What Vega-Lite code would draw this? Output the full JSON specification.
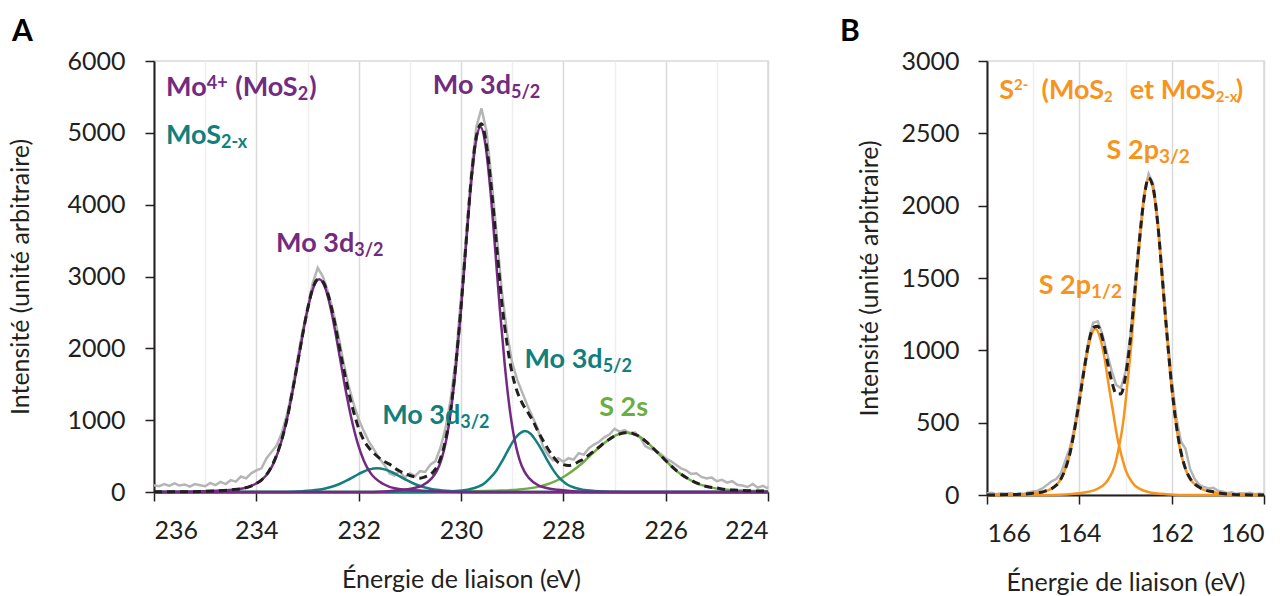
{
 "$schema": "https://vega.github.io/schema/vega-lite/v6.json",
 "background": "white",
 "padding": {"left": 8, "top": 16, "right": 5, "bottom": 0},
 "spacing": 64,
 "config": {
  "font": "Lato",
  "view": {"stroke": "#d9d9d9", "strokeWidth": 1.5},
  "axis": {"labelFont": "Lato", "titleFont": "Lato", "labelFontSize": 25, "titleFontSize": 25, "titleFontWeight": "normal", "labelColor": "#231f20", "titleColor": "#231f20", "domainColor": "#231f20", "domainWidth": 2, "tickColor": "#231f20", "tickWidth": 1.5, "tickSize": 9, "grid": false, "labelOverlap": false},
  "title": {"font": "Lato", "fontSize": 30, "fontWeight": "bold", "color": "#000000", "anchor": "start", "frame": "bounds"}
 },
 "datasets": {
  "a": [
   {"s":"raw","E":236.0,"I":95},{"s":"raw","E":235.9,"I":80},{"s":"raw","E":235.8,"I":110},{"s":"raw","E":235.7,"I":85},{"s":"raw","E":235.6,"I":120},{"s":"raw","E":235.5,"I":90},{"s":"raw","E":235.4,"I":105},{"s":"raw","E":235.3,"I":75},{"s":"raw","E":235.2,"I":110},{"s":"raw","E":235.1,"I":95},{"s":"raw","E":235.0,"I":80},{"s":"raw","E":234.9,"I":125},{"s":"raw","E":234.8,"I":95},{"s":"raw","E":234.7,"I":140},{"s":"raw","E":234.6,"I":110},{"s":"raw","E":234.5,"I":165},{"s":"raw","E":234.4,"I":145},{"s":"raw","E":234.3,"I":215},{"s":"raw","E":234.2,"I":190},{"s":"raw","E":234.1,"I":260},{"s":"raw","E":234.0,"I":300},{"s":"raw","E":233.9,"I":330},{"s":"raw","E":233.8,"I":470},{"s":"raw","E":233.7,"I":560},{"s":"raw","E":233.6,"I":650},{"s":"raw","E":233.5,"I":830},{"s":"raw","E":233.4,"I":1080},{"s":"raw","E":233.3,"I":1420},{"s":"raw","E":233.2,"I":1830},{"s":"raw","E":233.1,"I":2230},{"s":"raw","E":233.0,"I":2560},{"s":"raw","E":232.9,"I":2900},{"s":"raw","E":232.8,"I":3120},{"s":"raw","E":232.7,"I":3000},{"s":"raw","E":232.6,"I":2790},{"s":"raw","E":232.5,"I":2520},{"s":"raw","E":232.4,"I":2190},{"s":"raw","E":232.3,"I":1820},{"s":"raw","E":232.2,"I":1490},{"s":"raw","E":232.1,"I":1230},{"s":"raw","E":232.0,"I":1010},{"s":"raw","E":231.9,"I":850},{"s":"raw","E":231.8,"I":700},{"s":"raw","E":231.7,"I":590},{"s":"raw","E":231.6,"I":470},{"s":"raw","E":231.5,"I":380},{"s":"raw","E":231.4,"I":260},{"s":"raw","E":231.3,"I":230},{"s":"raw","E":231.2,"I":290},{"s":"raw","E":231.1,"I":200},{"s":"raw","E":231.0,"I":260},{"s":"raw","E":230.9,"I":220},{"s":"raw","E":230.8,"I":290},{"s":"raw","E":230.7,"I":280},{"s":"raw","E":230.6,"I":380},{"s":"raw","E":230.5,"I":430},{"s":"raw","E":230.4,"I":620},{"s":"raw","E":230.3,"I":900},{"s":"raw","E":230.2,"I":1300},{"s":"raw","E":230.1,"I":1870},{"s":"raw","E":230.0,"I":2700},{"s":"raw","E":229.9,"I":3560},{"s":"raw","E":229.8,"I":4450},{"s":"raw","E":229.7,"I":5080},{"s":"raw","E":229.6,"I":5340},{"s":"raw","E":229.5,"I":5020},{"s":"raw","E":229.4,"I":4330},{"s":"raw","E":229.3,"I":3560},{"s":"raw","E":229.2,"I":2790},{"s":"raw","E":229.1,"I":2210},{"s":"raw","E":229.0,"I":1800},{"s":"raw","E":228.9,"I":1560},{"s":"raw","E":228.8,"I":1380},{"s":"raw","E":228.7,"I":1200},{"s":"raw","E":228.6,"I":1040},{"s":"raw","E":228.5,"I":880},{"s":"raw","E":228.4,"I":640},{"s":"raw","E":228.3,"I":520},{"s":"raw","E":228.2,"I":440},{"s":"raw","E":228.1,"I":470},{"s":"raw","E":228.0,"I":420},{"s":"raw","E":227.9,"I":470},{"s":"raw","E":227.8,"I":450},{"s":"raw","E":227.7,"I":540},{"s":"raw","E":227.6,"I":520},{"s":"raw","E":227.5,"I":610},{"s":"raw","E":227.4,"I":660},{"s":"raw","E":227.3,"I":700},{"s":"raw","E":227.2,"I":760},{"s":"raw","E":227.1,"I":800},{"s":"raw","E":227.0,"I":880},{"s":"raw","E":226.9,"I":840},{"s":"raw","E":226.8,"I":860},{"s":"raw","E":226.7,"I":810},{"s":"raw","E":226.6,"I":830},{"s":"raw","E":226.5,"I":760},{"s":"raw","E":226.4,"I":640},{"s":"raw","E":226.3,"I":600},{"s":"raw","E":226.2,"I":580},{"s":"raw","E":226.1,"I":530},{"s":"raw","E":226.0,"I":470},{"s":"raw","E":225.9,"I":430},{"s":"raw","E":225.8,"I":380},{"s":"raw","E":225.7,"I":330},{"s":"raw","E":225.6,"I":300},{"s":"raw","E":225.5,"I":250},{"s":"raw","E":225.4,"I":260},{"s":"raw","E":225.3,"I":210},{"s":"raw","E":225.2,"I":190},{"s":"raw","E":225.1,"I":200},{"s":"raw","E":225.0,"I":150},{"s":"raw","E":224.9,"I":170},{"s":"raw","E":224.8,"I":130},{"s":"raw","E":224.7,"I":150},{"s":"raw","E":224.6,"I":100},{"s":"raw","E":224.5,"I":90},{"s":"raw","E":224.4,"I":70},{"s":"raw","E":224.3,"I":110},{"s":"raw","E":224.2,"I":60},{"s":"raw","E":224.1,"I":85},{"s":"raw","E":224.0,"I":50},

   {"s":"P1","E":236,"I":0},{"s":"P1","E":231.71,"I":0},{"s":"P1","E":231.14,"I":30},{"s":"P1","E":230.76,"I":90},{"s":"P1","E":230.57,"I":193},{"s":"P1","E":230.475,"I":290},{"s":"P1","E":230.38,"I":457},{"s":"P1","E":230.285,"I":737},{"s":"P1","E":230.19,"I":1168},{"s":"P1","E":230.095,"I":1773},{"s":"P1","E":230.0,"I":2540},{"s":"P1","E":229.905,"I":3404},{"s":"P1","E":229.81,"I":4232},{"s":"P1","E":229.715,"I":4846},{"s":"P1","E":229.62,"I":5080},{"s":"P1","E":229.525,"I":4846},{"s":"P1","E":229.43,"I":4232},{"s":"P1","E":229.335,"I":3404},{"s":"P1","E":229.24,"I":2540},{"s":"P1","E":229.145,"I":1773},{"s":"P1","E":229.05,"I":1168},{"s":"P1","E":228.955,"I":737},{"s":"P1","E":228.86,"I":457},{"s":"P1","E":228.765,"I":290},{"s":"P1","E":228.67,"I":193},{"s":"P1","E":228.48,"I":90},{"s":"P1","E":228.10,"I":30},{"s":"P1","E":227.53,"I":0},{"s":"P1","E":224,"I":0},

   {"s":"P2","E":236,"I":0},{"s":"P2","E":235.77,"I":0},{"s":"P2","E":234.77,"I":18},{"s":"P2","E":234.27,"I":50},{"s":"P2","E":234.02,"I":112},{"s":"P2","E":233.77,"I":266},{"s":"P2","E":233.645,"I":429},{"s":"P2","E":233.52,"I":681},{"s":"P2","E":233.395,"I":1033},{"s":"P2","E":233.27,"I":1480},{"s":"P2","E":233.145,"I":1983},{"s":"P2","E":233.02,"I":2466},{"s":"P2","E":232.895,"I":2824},{"s":"P2","E":232.77,"I":2960},{"s":"P2","E":232.645,"I":2824},{"s":"P2","E":232.52,"I":2466},{"s":"P2","E":232.395,"I":1983},{"s":"P2","E":232.27,"I":1480},{"s":"P2","E":232.145,"I":1033},{"s":"P2","E":232.02,"I":681},{"s":"P2","E":231.895,"I":429},{"s":"P2","E":231.77,"I":266},{"s":"P2","E":231.52,"I":112},{"s":"P2","E":231.27,"I":50},{"s":"P2","E":230.77,"I":18},{"s":"P2","E":229.77,"I":0},{"s":"P2","E":224,"I":0},

   {"s":"T2","E":236,"I":0},{"s":"T2","E":233.64,"I":0},{"s":"T2","E":233.09,"I":12},{"s":"T2","E":232.80,"I":30},{"s":"T2","E":232.655,"I":48},{"s":"T2","E":232.51,"I":76},{"s":"T2","E":232.365,"I":115},{"s":"T2","E":232.22,"I":165},{"s":"T2","E":232.075,"I":221},{"s":"T2","E":231.93,"I":275},{"s":"T2","E":231.785,"I":315},{"s":"T2","E":231.64,"I":330},{"s":"T2","E":231.495,"I":315},{"s":"T2","E":231.35,"I":275},{"s":"T2","E":231.205,"I":221},{"s":"T2","E":231.06,"I":165},{"s":"T2","E":230.915,"I":115},{"s":"T2","E":230.77,"I":76},{"s":"T2","E":230.625,"I":48},{"s":"T2","E":230.48,"I":30},{"s":"T2","E":230.19,"I":12},{"s":"T2","E":229.64,"I":0},{"s":"T2","E":224,"I":0},

   {"s":"T1","E":236,"I":0},{"s":"T1","E":230.75,"I":0},{"s":"T1","E":230.10,"I":15},{"s":"T1","E":229.88,"I":32},{"s":"T1","E":229.65,"I":77},{"s":"T1","E":229.54,"I":123},{"s":"T1","E":229.43,"I":196},{"s":"T1","E":229.31,"I":297},{"s":"T1","E":229.20,"I":425},{"s":"T1","E":229.09,"I":570},{"s":"T1","E":228.98,"I":708},{"s":"T1","E":228.86,"I":811},{"s":"T1","E":228.75,"I":850},{"s":"T1","E":228.64,"I":811},{"s":"T1","E":228.53,"I":708},{"s":"T1","E":228.41,"I":570},{"s":"T1","E":228.30,"I":425},{"s":"T1","E":228.19,"I":297},{"s":"T1","E":228.08,"I":196},{"s":"T1","E":227.96,"I":123},{"s":"T1","E":227.85,"I":77},{"s":"T1","E":227.63,"I":32},{"s":"T1","E":227.40,"I":15},{"s":"T1","E":226.75,"I":0},{"s":"T1","E":224,"I":0},

   {"s":"G1","E":236,"I":0},{"s":"G1","E":231.5,"I":0},{"s":"G1","E":230.19,"I":5},{"s":"G1","E":229.33,"I":18},{"s":"G1","E":228.90,"I":32},{"s":"G1","E":228.47,"I":75},{"s":"G1","E":228.26,"I":120},{"s":"G1","E":228.04,"I":191},{"s":"G1","E":227.83,"I":290},{"s":"G1","E":227.61,"I":415},{"s":"G1","E":227.40,"I":556},{"s":"G1","E":227.18,"I":691},{"s":"G1","E":226.97,"I":792},{"s":"G1","E":226.75,"I":830},{"s":"G1","E":226.56,"I":792},{"s":"G1","E":226.36,"I":691},{"s":"G1","E":226.17,"I":556},{"s":"G1","E":225.97,"I":415},{"s":"G1","E":225.78,"I":290},{"s":"G1","E":225.58,"I":191},{"s":"G1","E":225.39,"I":120},{"s":"G1","E":225.19,"I":75},{"s":"G1","E":224.80,"I":32},{"s":"G1","E":224.41,"I":18},{"s":"G1","E":224.0,"I":12},

   {"s":"env","E":236,"I":5},{"s":"env","E":235.5,"I":3},{"s":"env","E":235,"I":10},{"s":"env","E":234.75,"I":18},{"s":"env","E":234.5,"I":30},{"s":"env","E":234.25,"I":52},{"s":"env","E":234.0,"I":118},{"s":"env","E":233.9,"I":166},{"s":"env","E":233.8,"I":243},{"s":"env","E":233.7,"I":358},{"s":"env","E":233.6,"I":521},{"s":"env","E":233.5,"I":737},{"s":"env","E":233.4,"I":1018},{"s":"env","E":233.3,"I":1381},{"s":"env","E":233.2,"I":1770},{"s":"env","E":233.1,"I":2170},{"s":"env","E":233.0,"I":2538},{"s":"env","E":232.9,"I":2831},{"s":"env","E":232.8,"I":2958},{"s":"env","E":232.7,"I":2927},{"s":"env","E":232.6,"I":2752},{"s":"env","E":232.5,"I":2468},{"s":"env","E":232.4,"I":2107},{"s":"env","E":232.3,"I":1740},{"s":"env","E":232.2,"I":1403},{"s":"env","E":232.1,"I":1118},{"s":"env","E":232.0,"I":888},{"s":"env","E":231.9,"I":721},{"s":"env","E":231.8,"I":615},{"s":"env","E":231.7,"I":537},{"s":"env","E":231.6,"I":476},{"s":"env","E":231.5,"I":425},{"s":"env","E":231.4,"I":388},{"s":"env","E":231.3,"I":336},{"s":"env","E":231.2,"I":292},{"s":"env","E":231.1,"I":256},{"s":"env","E":231.0,"I":230},{"s":"env","E":230.9,"I":208},{"s":"env","E":230.8,"I":193},{"s":"env","E":230.7,"I":212},{"s":"env","E":230.6,"I":243},{"s":"env","E":230.5,"I":318},{"s":"env","E":230.4,"I":469},{"s":"env","E":230.3,"I":732},{"s":"env","E":230.2,"I":1151},{"s":"env","E":230.1,"I":1783},{"s":"env","E":230.0,"I":2575},{"s":"env","E":229.9,"I":3472},{"s":"env","E":229.8,"I":4355},{"s":"env","E":229.7,"I":4948},{"s":"env","E":229.6,"I":5126},{"s":"env","E":229.5,"I":4819},{"s":"env","E":229.4,"I":4187},{"s":"env","E":229.3,"I":3405},{"s":"env","E":229.2,"I":2627},{"s":"env","E":229.1,"I":2062},{"s":"env","E":229.0,"I":1652},{"s":"env","E":228.9,"I":1394},{"s":"env","E":228.8,"I":1232},{"s":"env","E":228.7,"I":1116},{"s":"env","E":228.6,"I":998},{"s":"env","E":228.5,"I":852},{"s":"env","E":228.4,"I":720},{"s":"env","E":228.3,"I":598},{"s":"env","E":228.2,"I":495},{"s":"env","E":228.1,"I":412},{"s":"env","E":228.0,"I":381},{"s":"env","E":227.9,"I":369},{"s":"env","E":227.8,"I":384},{"s":"env","E":227.7,"I":424},{"s":"env","E":227.6,"I":461},{"s":"env","E":227.5,"I":517},{"s":"env","E":227.4,"I":572},{"s":"env","E":227.3,"I":626},{"s":"env","E":227.2,"I":688},{"s":"env","E":227.1,"I":733},{"s":"env","E":227.0,"I":780},{"s":"env","E":226.9,"I":808},{"s":"env","E":226.8,"I":826},{"s":"env","E":226.7,"I":825},{"s":"env","E":226.6,"I":801},{"s":"env","E":226.5,"I":764},{"s":"env","E":226.4,"I":711},{"s":"env","E":226.3,"I":648},{"s":"env","E":226.2,"I":578},{"s":"env","E":226.1,"I":511},{"s":"env","E":226.0,"I":438},{"s":"env","E":225.9,"I":370},{"s":"env","E":225.8,"I":305},{"s":"env","E":225.7,"I":250},{"s":"env","E":225.6,"I":203},{"s":"env","E":225.5,"I":163},{"s":"env","E":225.4,"I":126},{"s":"env","E":225.3,"I":100},{"s":"env","E":225.2,"I":77},{"s":"env","E":225.0,"I":55},{"s":"env","E":224.8,"I":32},{"s":"env","E":224.6,"I":25},{"s":"env","E":224.4,"I":18},{"s":"env","E":224.2,"I":15},{"s":"env","E":224.0,"I":12}
  ],
  "b": [
   {"s":"raw","E":166.0,"I":10},{"s":"raw","E":165.9,"I":15},{"s":"raw","E":165.8,"I":5},{"s":"raw","E":165.7,"I":12},{"s":"raw","E":165.6,"I":8},{"s":"raw","E":165.5,"I":14},{"s":"raw","E":165.4,"I":6},{"s":"raw","E":165.3,"I":10},{"s":"raw","E":165.2,"I":8},{"s":"raw","E":165.1,"I":20},{"s":"raw","E":165.0,"I":25},{"s":"raw","E":164.9,"I":30},{"s":"raw","E":164.8,"I":45},{"s":"raw","E":164.7,"I":70},{"s":"raw","E":164.6,"I":95},{"s":"raw","E":164.5,"I":110},{"s":"raw","E":164.4,"I":150},{"s":"raw","E":164.3,"I":240},{"s":"raw","E":164.2,"I":330},{"s":"raw","E":164.1,"I":480},{"s":"raw","E":164.0,"I":690},{"s":"raw","E":163.9,"I":880},{"s":"raw","E":163.8,"I":1070},{"s":"raw","E":163.7,"I":1190},{"s":"raw","E":163.6,"I":1200},{"s":"raw","E":163.5,"I":1110},{"s":"raw","E":163.4,"I":980},{"s":"raw","E":163.3,"I":860},{"s":"raw","E":163.2,"I":760},{"s":"raw","E":163.1,"I":740},{"s":"raw","E":163.0,"I":850},{"s":"raw","E":162.9,"I":1090},{"s":"raw","E":162.8,"I":1430},{"s":"raw","E":162.7,"I":1790},{"s":"raw","E":162.6,"I":2080},{"s":"raw","E":162.5,"I":2220},{"s":"raw","E":162.4,"I":2150},{"s":"raw","E":162.3,"I":1900},{"s":"raw","E":162.2,"I":1520},{"s":"raw","E":162.1,"I":1130},{"s":"raw","E":162.0,"I":800},{"s":"raw","E":161.9,"I":540},{"s":"raw","E":161.8,"I":370},{"s":"raw","E":161.7,"I":320},{"s":"raw","E":161.6,"I":180},{"s":"raw","E":161.5,"I":110},{"s":"raw","E":161.4,"I":70},{"s":"raw","E":161.3,"I":55},{"s":"raw","E":161.2,"I":45},{"s":"raw","E":161.1,"I":50},{"s":"raw","E":161.0,"I":30},{"s":"raw","E":160.9,"I":25},{"s":"raw","E":160.8,"I":12},{"s":"raw","E":160.7,"I":18},{"s":"raw","E":160.6,"I":8},{"s":"raw","E":160.5,"I":12},{"s":"raw","E":160.4,"I":10},{"s":"raw","E":160.3,"I":15},{"s":"raw","E":160.2,"I":6},{"s":"raw","E":160.1,"I":10},{"s":"raw","E":160.0,"I":5},

   {"s":"S3","E":166,"I":0},{"s":"S3","E":164.57,"I":0},{"s":"S3","E":164.00,"I":12},{"s":"S3","E":163.62,"I":40},{"s":"S3","E":163.43,"I":83},{"s":"S3","E":163.34,"I":125},{"s":"S3","E":163.24,"I":197},{"s":"S3","E":163.15,"I":318},{"s":"S3","E":163.05,"I":504},{"s":"S3","E":162.96,"I":764},{"s":"S3","E":162.86,"I":1095},{"s":"S3","E":162.77,"I":1467},{"s":"S3","E":162.67,"I":1824},{"s":"S3","E":162.58,"I":2089},{"s":"S3","E":162.48,"I":2190},{"s":"S3","E":162.39,"I":2089},{"s":"S3","E":162.29,"I":1824},{"s":"S3","E":162.20,"I":1467},{"s":"S3","E":162.10,"I":1095},{"s":"S3","E":162.01,"I":764},{"s":"S3","E":161.91,"I":504},{"s":"S3","E":161.82,"I":318},{"s":"S3","E":161.72,"I":197},{"s":"S3","E":161.63,"I":125},{"s":"S3","E":161.53,"I":83},{"s":"S3","E":161.34,"I":40},{"s":"S3","E":160.96,"I":12},{"s":"S3","E":160.39,"I":0},{"s":"S3","E":160,"I":0},

   {"s":"S1","E":166,"I":0},{"s":"S1","E":165.74,"I":0},{"s":"S1","E":165.17,"I":6},{"s":"S1","E":164.79,"I":21},{"s":"S1","E":164.60,"I":44},{"s":"S1","E":164.51,"I":66},{"s":"S1","E":164.41,"I":104},{"s":"S1","E":164.32,"I":167},{"s":"S1","E":164.22,"I":265},{"s":"S1","E":164.13,"I":401},{"s":"S1","E":164.03,"I":575},{"s":"S1","E":163.94,"I":771},{"s":"S1","E":163.84,"I":958},{"s":"S1","E":163.75,"I":1097},{"s":"S1","E":163.65,"I":1150},{"s":"S1","E":163.56,"I":1097},{"s":"S1","E":163.46,"I":958},{"s":"S1","E":163.37,"I":771},{"s":"S1","E":163.27,"I":575},{"s":"S1","E":163.18,"I":401},{"s":"S1","E":163.08,"I":265},{"s":"S1","E":162.99,"I":167},{"s":"S1","E":162.89,"I":104},{"s":"S1","E":162.80,"I":66},{"s":"S1","E":162.70,"I":44},{"s":"S1","E":162.51,"I":21},{"s":"S1","E":162.13,"I":6},{"s":"S1","E":161.56,"I":0},{"s":"S1","E":160,"I":0},

   {"s":"env","E":166,"I":0},{"s":"env","E":165.5,"I":3},{"s":"env","E":165.2,"I":6},{"s":"env","E":165.0,"I":13},{"s":"env","E":164.9,"I":17},{"s":"env","E":164.8,"I":21},{"s":"env","E":164.7,"I":32},{"s":"env","E":164.6,"I":44},{"s":"env","E":164.5,"I":67},{"s":"env","E":164.4,"I":111},{"s":"env","E":164.3,"I":183},{"s":"env","E":164.2,"I":292},{"s":"env","E":164.1,"I":460},{"s":"env","E":164.0,"I":649},{"s":"env","E":163.9,"I":858},{"s":"env","E":163.8,"I":1046},{"s":"env","E":163.7,"I":1157},{"s":"env","E":163.6,"I":1166},{"s":"env","E":163.5,"I":1085},{"s":"env","E":163.4,"I":934},{"s":"env","E":163.3,"I":788},{"s":"env","E":163.2,"I":700},{"s":"env","E":163.1,"I":699},{"s":"env","E":163.0,"I":820},{"s":"env","E":162.9,"I":1061},{"s":"env","E":162.8,"I":1401},{"s":"env","E":162.7,"I":1754},{"s":"env","E":162.6,"I":2047},{"s":"env","E":162.5,"I":2191},{"s":"env","E":162.4,"I":2122},{"s":"env","E":162.3,"I":1870},{"s":"env","E":162.2,"I":1491},{"s":"env","E":162.1,"I":1101},{"s":"env","E":162.0,"I":755},{"s":"env","E":161.9,"I":485},{"s":"env","E":161.8,"I":300},{"s":"env","E":161.7,"I":182},{"s":"env","E":161.6,"I":114},{"s":"env","E":161.5,"I":77},{"s":"env","E":161.4,"I":53},{"s":"env","E":161.3,"I":37},{"s":"env","E":161.1,"I":22},{"s":"env","E":160.9,"I":10},{"s":"env","E":160.5,"I":2},{"s":"env","E":160,"I":0}
  ],
  "la": [
   {"t":"Mo","E":234.97,"I":5517,"r":"br","c":"p"},
   {"t":"4+","E":234.97,"I":5517,"r":"sup","c":"p"},
   {"t":"(MoS","E":233.192,"I":5517,"r":"br","c":"p"},
   {"t":"2","E":233.192,"I":5517,"r":"sub","c":"p"},
   {"t":")","E":232.965,"I":5517,"r":"b","c":"p"},
   {"t":"MoS","E":234.691,"I":4848,"r":"br","c":"t"},
   {"t":"2-x","E":234.691,"I":4848,"r":"sub","c":"t"},
   {"t":"Mo 3d","E":229.023,"I":5545,"r":"br","c":"p"},
   {"t":"5/2","E":229.023,"I":5545,"r":"sub","c":"p"},
   {"t":"Mo 3d","E":232.086,"I":3345,"r":"br","c":"p"},
   {"t":"3/2","E":232.086,"I":3345,"r":"sub","c":"p"},
   {"t":"Mo 3d","E":227.231,"I":1733,"r":"br","c":"t"},
   {"t":"5/2","E":227.231,"I":1733,"r":"sub","c":"t"},
   {"t":"Mo 3d","E":230.014,"I":942,"r":"br","c":"t"},
   {"t":"3/2","E":230.014,"I":942,"r":"sub","c":"t"},
   {"t":"S 2s","E":227.298,"I":1057,"r":"b","c":"g"}
  ],
  "lb": [
   {"t":"S","E":165.415,"I":2735,"r":"br","g":"h"},
   {"t":"2-","E":165.415,"I":2735,"r":"sup","g":"h"},
   {"t":"(MoS","E":163.466,"I":2735,"r":"br","g":"h"},
   {"t":"2","E":163.466,"I":2735,"r":"sub","g":"h"},
   {"t":"et MoS","E":161.047,"I":2735,"r":"br","g":"h"},
   {"t":"2-x","E":161.047,"I":2735,"r":"sub","g":"h"},
   {"t":")","E":160.613,"I":2735,"r":"b","g":"h"},
   {"t":"S 2p","E":162.275,"I":2326,"r":"br","g":"p"},
   {"t":"3/2","E":162.275,"I":2326,"r":"sub","g":"p"},
   {"t":"S 2p","E":163.747,"I":1388,"r":"br","g":"p"},
   {"t":"1/2","E":163.747,"I":1388,"r":"sub","g":"p"}
  ]
 },
 "hconcat": [
  {
   "width": 614, "height": 431,
   "title": {"text": "A", "dx": 3, "offset": 2},
   "encoding": {
    "x": {"field": "E", "type": "quantitative", "scale": {"domain": [224, 236], "reverse": true, "nice": false, "zero": false},
     "axis": {"title": "Énergie de liaison (eV)", "format": "d", "values": [236,235.5,235,234.5,234,233.5,233,232.5,232,231.5,231,230.5,230,229.5,229,228.5,228,227.5,227,226.5,226,225.5,225,224.5,224],
      "labelExpr": "datum.value % 2 === 0 ? datum.label : ''",
      "tickOpacity": {"condition": {"test": "datum.value % 2 === 0", "value": 1}, "value": 0},
      "grid": true, "gridWidth": 1.5,
      "gridColor": {"condition": {"test": "datum.value % 2 === 0", "value": "#d9d9d9"}, "value": "#efefef"},
      "labelPadding": 17, "titlePadding": 24}},
    "y": {"field": "I", "type": "quantitative", "scale": {"domain": [0, 6000], "nice": false},
     "axis": {"title": "Intensité (unité arbitraire)", "format": "d", "values": [0,1000,2000,3000,4000,5000,6000], "labelPadding": 20, "titlePadding": 33}}
   },
   "layer": [
    {"data": {"name": "a"}, "transform": [{"filter": "datum.s === 'raw'"}], "mark": {"type": "line", "color": "#b5b5b5", "strokeWidth": 2.5}},
    {"data": {"name": "a"}, "transform": [{"filter": "datum.s === 'G1'"}], "mark": {"type": "line", "color": "#70ad47", "strokeWidth": 2.5, "interpolate": "monotone"}},
    {"data": {"name": "a"}, "transform": [{"filter": "datum.s === 'T1' || datum.s === 'T2'"}], "mark": {"type": "line", "color": "#127f7d", "strokeWidth": 2.5, "interpolate": "monotone"}, "encoding": {"detail": {"field": "s", "type": "nominal"}}},
    {"data": {"name": "a"}, "transform": [{"filter": "datum.s === 'P1' || datum.s === 'P2'"}], "mark": {"type": "line", "color": "#722b80", "strokeWidth": 2.5, "interpolate": "monotone"}, "encoding": {"detail": {"field": "s", "type": "nominal"}}},
    {"data": {"name": "a"}, "transform": [{"filter": "datum.s === 'env'"}], "mark": {"type": "line", "color": "#231f20", "strokeWidth": 3, "strokeDash": [8, 5], "interpolate": "monotone"}},
    {"data": {"name": "la"}, "transform": [{"filter": "datum.r === 'b'"}], "mark": {"type": "text", "align": "left", "baseline": "alphabetic", "fontSize": 27, "fontWeight": "bold", "font": "Lato"},
     "encoding": {"text": {"field": "t", "type": "nominal"}, "color": {"field": "c", "type": "nominal", "scale": {"domain": ["p", "t", "g"], "range": ["#722b80", "#127f7d", "#6aae3f"]}, "legend": null}}},
    {"data": {"name": "la"}, "transform": [{"filter": "datum.r === 'br'"}], "mark": {"type": "text", "align": "right", "baseline": "alphabetic", "fontSize": 27, "fontWeight": "bold", "font": "Lato"},
     "encoding": {"text": {"field": "t", "type": "nominal"}, "color": {"field": "c", "type": "nominal", "legend": null}}},
    {"data": {"name": "la"}, "transform": [{"filter": "datum.r === 'sub'"}], "mark": {"type": "text", "align": "left", "baseline": "alphabetic", "fontSize": 18, "fontWeight": "bold", "font": "Lato", "dy": 4},
     "encoding": {"text": {"field": "t", "type": "nominal"}, "color": {"field": "c", "type": "nominal", "legend": null}}},
    {"data": {"name": "la"}, "transform": [{"filter": "datum.r === 'sup'"}], "mark": {"type": "text", "align": "left", "baseline": "alphabetic", "fontSize": 18, "fontWeight": "bold", "font": "Lato", "dy": -7},
     "encoding": {"text": {"field": "t", "type": "nominal"}, "color": {"field": "c", "type": "nominal", "legend": null}}}
   ]
  },
  {
   "width": 277, "height": 434,
   "title": {"text": "B", "dx": -18, "offset": 2},
   "encoding": {
    "x": {"field": "E", "type": "quantitative", "scale": {"domain": [160, 166], "reverse": true, "nice": false, "zero": false},
     "axis": {"title": "Énergie de liaison (eV)", "format": "d", "values": [166,165.5,165,164.5,164,163.5,163,162.5,162,161.5,161,160.5,160],
      "labelExpr": "datum.value % 2 === 0 ? datum.label : ''",
      "tickOpacity": {"condition": {"test": "datum.value % 2 === 0", "value": 1}, "value": 0},
      "grid": true, "gridWidth": 1.5,
      "gridColor": {"condition": {"test": "datum.value % 2 === 0", "value": "#d9d9d9"}, "value": "#efefef"},
      "labelPadding": 17, "titlePadding": 24}},
    "y": {"field": "I", "type": "quantitative", "scale": {"domain": [0, 3000], "nice": false},
     "axis": {"title": "Intensité (unité arbitraire)", "format": "d", "values": [0,500,1000,1500,2000,2500,3000], "labelPadding": 19, "titlePadding": 18}}
   },
   "layer": [
    {"data": {"name": "b"}, "transform": [{"filter": "datum.s === 'raw'"}], "mark": {"type": "line", "color": "#b5b5b5", "strokeWidth": 2.5}},
    {"data": {"name": "b"}, "transform": [{"filter": "datum.s === 'S1' || datum.s === 'S3'"}], "mark": {"type": "line", "color": "#f7941e", "strokeWidth": 2.5, "interpolate": "monotone"}, "encoding": {"detail": {"field": "s", "type": "nominal"}}},
    {"data": {"name": "b"}, "transform": [{"filter": "datum.s === 'env'"}], "mark": {"type": "line", "color": "#231f20", "strokeWidth": 3, "strokeDash": [8, 5], "interpolate": "monotone"}},
    {"data": {"name": "lb"}, "transform": [{"filter": "datum.g === 'h' && datum.r === 'b'"}], "mark": {"type": "text", "align": "left", "baseline": "alphabetic", "fontSize": 27, "fontWeight": "bold", "font": "Lato", "color": "#f7941e"},
     "encoding": {"text": {"field": "t", "type": "nominal"}}},
    {"data": {"name": "lb"}, "transform": [{"filter": "datum.g === 'h' && datum.r === 'br'"}], "mark": {"type": "text", "align": "right", "baseline": "alphabetic", "fontSize": 27, "fontWeight": "bold", "font": "Lato", "color": "#f7941e"},
     "encoding": {"text": {"field": "t", "type": "nominal"}}},
    {"data": {"name": "lb"}, "transform": [{"filter": "datum.g === 'h' && datum.r === 'sub'"}], "mark": {"type": "text", "align": "left", "baseline": "alphabetic", "fontSize": 15, "fontWeight": "bold", "font": "Lato", "color": "#f7941e", "dy": 3},
     "encoding": {"text": {"field": "t", "type": "nominal"}}},
    {"data": {"name": "lb"}, "transform": [{"filter": "datum.g === 'h' && datum.r === 'sup'"}], "mark": {"type": "text", "align": "left", "baseline": "alphabetic", "fontSize": 15, "fontWeight": "bold", "font": "Lato", "color": "#f7941e", "dy": -9},
     "encoding": {"text": {"field": "t", "type": "nominal"}}},
    {"data": {"name": "lb"}, "transform": [{"filter": "datum.g === 'p' && datum.r === 'br'"}], "mark": {"type": "text", "align": "right", "baseline": "alphabetic", "fontSize": 27, "fontWeight": "bold", "font": "Lato", "color": "#f7941e"},
     "encoding": {"text": {"field": "t", "type": "nominal"}}},
    {"data": {"name": "lb"}, "transform": [{"filter": "datum.g === 'p' && datum.r === 'sub'"}], "mark": {"type": "text", "align": "left", "baseline": "alphabetic", "fontSize": 19, "fontWeight": "bold", "font": "Lato", "color": "#f7941e", "dy": 4},
     "encoding": {"text": {"field": "t", "type": "nominal"}}}
   ]
  }
 ]
}
